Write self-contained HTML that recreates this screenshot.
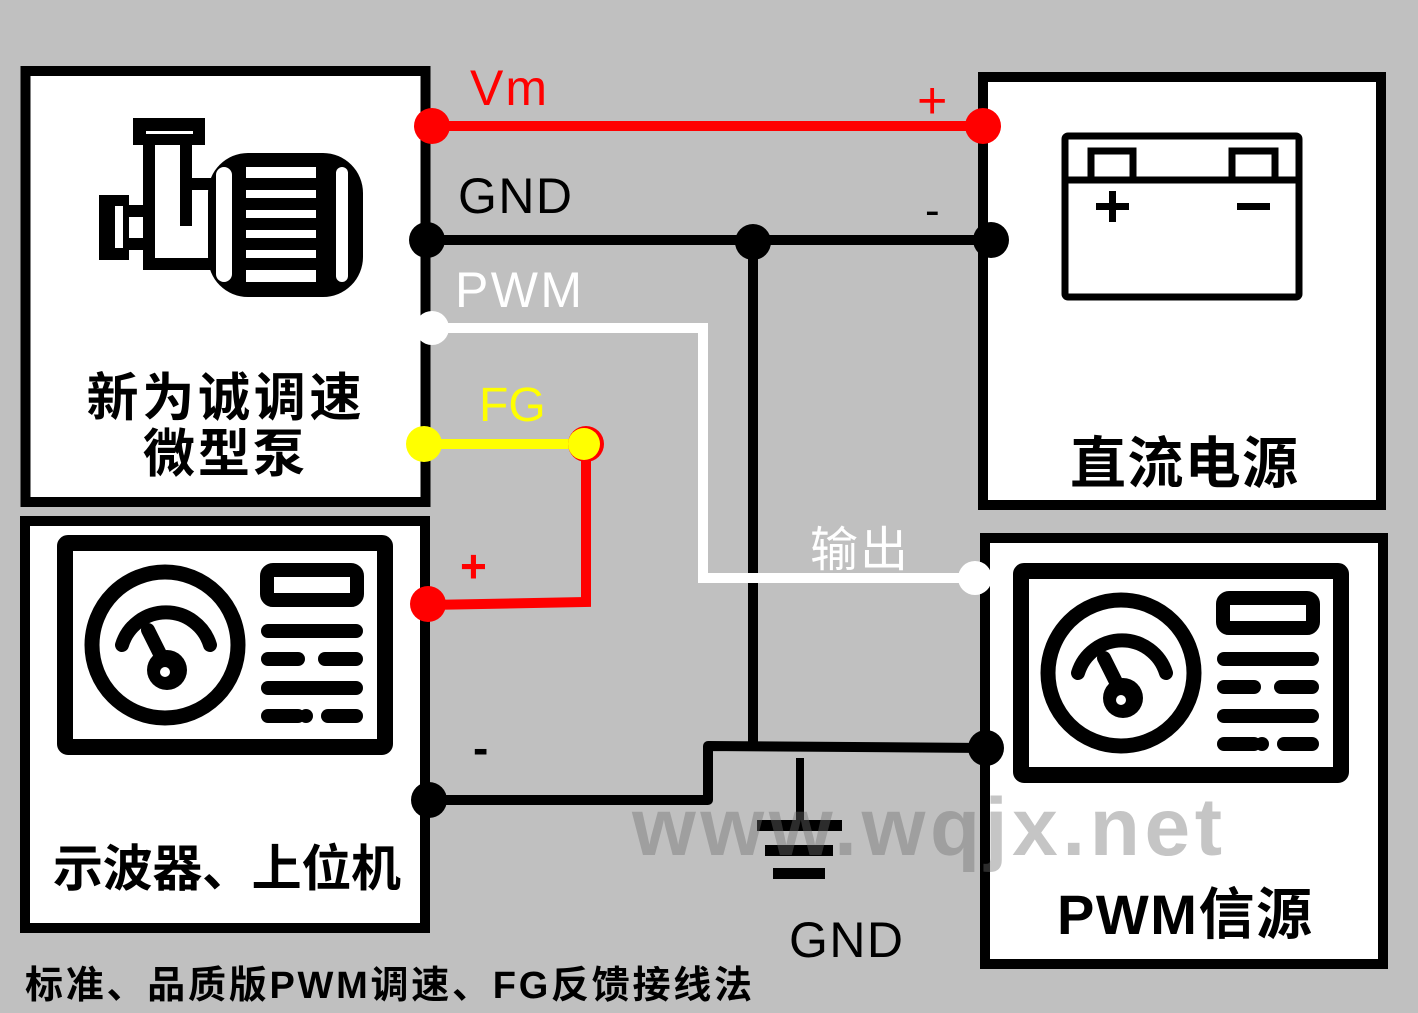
<!DOCTYPE html>
<html><head><meta charset="utf-8"><style>
html,body{margin:0;padding:0;background:#c0c0c0;}
svg{display:block}
text{font-family:"Liberation Sans","Noto Sans CJK SC",sans-serif;}
</style></head><body>
<svg width="1418" height="1013" viewBox="0 0 1418 1013" xmlns="http://www.w3.org/2000/svg">
<rect width="1418" height="1013" fill="#c0c0c0"/>
<rect x="25.5" y="71" width="400" height="431" fill="#fff" stroke="#000" stroke-width="10"/>
<rect x="983" y="77" width="398" height="428" fill="#fff" stroke="#000" stroke-width="10"/>
<rect x="25" y="521" width="400" height="407" fill="#fff" stroke="#000" stroke-width="10"/>
<rect x="985" y="538" width="398" height="426" fill="#fff" stroke="#000" stroke-width="10"/>

<g fill="#000">
<rect x="133" y="118" width="72" height="27"/>
<rect x="146" y="131" width="47" height="3" fill="#fff"/>
<rect x="143" y="143" width="12" height="127"/>
<rect x="180" y="143" width="12" height="83"/>
<rect x="143" y="258" width="75" height="12"/>
<rect x="180" y="178" width="40" height="12"/>
<rect x="99" y="195" width="30" height="65"/>
<rect x="115" y="206" width="8" height="42" fill="#fff"/>
<rect x="123" y="205" width="24" height="12"/>
<rect x="123" y="238" width="24" height="12"/>
<rect x="208" y="153" width="155" height="144" rx="40"/>
<rect x="216" y="167" width="16" height="115" rx="8" fill="#fff"/>
<rect x="336" y="167" width="12" height="115" rx="6" fill="#fff"/>
<rect x="246" y="167" width="70" height="115" fill="#fff"/>
<rect x="246" y="178" width="70" height="12"/>
<rect x="246" y="198" width="70" height="12"/>
<rect x="246" y="218" width="70" height="12"/>
<rect x="246" y="238" width="70" height="12"/>
<rect x="246" y="258" width="70" height="12"/>
</g>
<text x="224" y="416" font-size="52" font-weight="bold" text-anchor="middle" textLength="275">新为诚调速</text>
<text x="224" y="472" font-size="52" font-weight="bold" text-anchor="middle" textLength="162">微型泵</text>

<g fill="none" stroke="#000" stroke-width="7">
<rect x="1065" y="136" width="234" height="161" rx="3"/>
<line x1="1065" y1="180" x2="1299" y2="180"/>
<rect x="1091" y="151" width="42" height="29"/>
<rect x="1232" y="151" width="43" height="29"/>
</g>
<rect x="1096" y="203" width="33" height="7" fill="#000"/>
<rect x="1109" y="191" width="7" height="31" fill="#000"/>
<rect x="1237" y="203" width="33" height="7" fill="#000"/>
<text x="1184" y="483" font-size="56" font-weight="bold" text-anchor="middle" textLength="228">直流电源</text>

<g id="meter">
<rect x="65" y="543" width="320" height="204" rx="3" fill="none" stroke="#000" stroke-width="16"/>
<circle cx="165" cy="645" r="73" fill="none" stroke="#000" stroke-width="15"/>
<path d="M122 645 A46 46 0 0 1 210 645" fill="none" stroke="#000" stroke-width="14" stroke-linecap="round"/>
<path d="M148 630 L162 658" stroke="#000" stroke-width="14" stroke-linecap="round"/>
<circle cx="167" cy="670" r="20" fill="#000"/>
<circle cx="165" cy="672" r="5" fill="#fff"/>
<rect x="267" y="570" width="90" height="30" rx="6" fill="none" stroke="#000" stroke-width="14"/>
<rect x="261" y="624" width="102" height="14" rx="7"/>
<rect x="261" y="652" width="44" height="14" rx="7"/>
<rect x="318" y="652" width="45" height="14" rx="7"/>
<rect x="261" y="681" width="102" height="14" rx="7"/>
<rect x="261" y="709" width="44" height="14" rx="7"/>
<circle cx="306" cy="716" r="7"/>
<rect x="321" y="709" width="42" height="14" rx="7"/>
</g>
<use href="#meter" transform="translate(956,28)"/>
<text x="53" y="886" font-size="50" font-weight="bold" textLength="348">示波器、上位机</text>
<text x="1057" y="934" font-size="56" font-weight="bold" textLength="255">PWM信源</text>

<line x1="432" y1="126" x2="983" y2="126" stroke="#f00" stroke-width="10"/>
<circle cx="432" cy="126" r="18" fill="#f00"/><circle cx="983" cy="126" r="18" fill="#f00"/>
<line x1="427" y1="240" x2="991" y2="240" stroke="#000" stroke-width="10"/>
<line x1="753" y1="240" x2="753" y2="745" stroke="#000" stroke-width="10"/>
<circle cx="427" cy="240" r="18"/><circle cx="753" cy="242" r="18"/><circle cx="991" cy="240" r="18"/>
<polyline points="432,328 703,328 703,578 975,578" fill="none" stroke="#fff" stroke-width="10"/>
<circle cx="432" cy="328" r="17" fill="#fff"/><circle cx="975" cy="578" r="17" fill="#fff"/>
<polyline points="586,444 586,602 428,605" fill="none" stroke="#f00" stroke-width="10"/>
<line x1="424" y1="444" x2="586" y2="444" stroke="#ff0" stroke-width="10"/>
<circle cx="424" cy="444" r="18" fill="#ff0"/>
<circle cx="586" cy="444" r="18" fill="#f00"/><circle cx="584" cy="444" r="16" fill="#ff0"/>
<circle cx="428" cy="604" r="18" fill="#f00"/>
<polyline points="429,800 708,800 708,746 986,748" fill="none" stroke="#000" stroke-width="10" stroke-linejoin="round"/>
<circle cx="429" cy="800" r="18"/><circle cx="986" cy="748" r="18"/>

<line x1="800" y1="758" x2="800" y2="825" stroke="#000" stroke-width="8"/>
<rect x="757" y="820" width="85" height="11"/>
<rect x="765" y="845" width="68" height="11"/>
<rect x="773" y="868" width="52" height="11"/>

<text x="632" y="855" font-size="82" font-weight="bold" fill="rgba(110,110,110,0.4)" font-family="'DejaVu Sans',sans-serif" textLength="590">www.wqjx.net</text>

<text x="470" y="105" font-size="50" fill="#f00" textLength="77">Vm</text>
<text x="917" y="118" font-size="52" fill="#f00">+</text>
<text x="458" y="213" font-size="50" textLength="114">GND</text>
<text x="925" y="225" font-size="44">-</text>
<text x="455" y="307" font-size="50" fill="#fff" textLength="127">PWM</text>
<text x="479" y="421" font-size="48" fill="#ff0">FG</text>
<text x="810" y="566" font-size="48" fill="#fff" textLength="98">输出</text>
<text x="460" y="582" font-size="46" fill="#f00" font-weight="bold">+</text>
<text x="473" y="764" font-size="46" font-weight="bold">-</text>
<text x="789" y="957" font-size="50" textLength="114">GND</text>
<text x="25" y="998" font-size="38" font-weight="bold" textLength="727">标准、品质版PWM调速、FG反馈接线法</text>
</svg>
</body></html>
